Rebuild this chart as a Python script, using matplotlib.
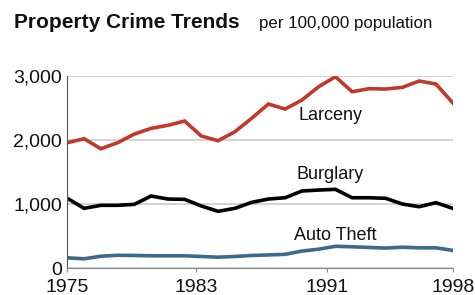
import numpy as np
import matplotlib.pyplot as plt

plt.rcParams['font.family'] = ['Liberation Sans', 'DejaVu Sans']

years = list(range(1975, 1999))
larceny = [1955, 2017, 1861, 1955, 2090, 2179, 2226, 2293, 2059, 1986, 2126, 2335,
           2558, 2480, 2620, 2828, 2984, 2750, 2797, 2792, 2818, 2917, 2870, 2578]
burglary = [1088, 932, 979, 979, 994, 1124, 1077, 1072, 968, 885, 932, 1025,
            1077, 1097, 1202, 1217, 1228, 1097, 1097, 1088, 999, 957, 1020, 932]
auto_theft = [160, 145, 185, 200, 197, 192, 192, 192, 181, 170, 181, 197,
              205, 215, 265, 295, 340, 332, 322, 312, 326, 316, 316, 276]
tick_labels = ['1975', '1983', '1991', '1998']

fig = plt.figure(figsize=(4.75, 2.95), dpi=100)
ax = fig.add_axes([0.1417, 0.0912, 0.8113, 0.6522])

ax.plot(years, larceny, color='#c0392b', lw=2.6, solid_joinstyle='miter')
ax.plot(years, burglary, color='#000000', lw=2.6, solid_joinstyle='miter')
ax.plot(years, auto_theft, color='#3d6a8c', lw=2.6, solid_joinstyle='miter')

ax.set_xlim(1975, 1998)
ax.set_ylim(0, 3000)
ax.set_yticks([0, 1000, 2000, 3000])
ax.set_yticklabels(['0', '1,000', '2,000', '3,000'])
# tick spots follow the original picture, which are not quite on the years
ax.set_xticks([1975, 1982.7, 1990.5, 1998])
ax.set_xticklabels(tick_labels)

ax.grid(axis='y', color='#cccccc', lw=1.2)
ax.set_axisbelow(True)
for s in ['top', 'right']:
    ax.spines[s].set_visible(False)
ax.spines['left'].set_color('#555555')
ax.spines['bottom'].set_color('#888888')
ax.tick_params(axis='y', length=0, pad=4, labelsize=14, colors='#111111')
ax.tick_params(axis='x', length=3, pad=5, labelsize=14, colors='#888888',
               labelcolor='#111111')

ax.text(1988.8, 2309, 'Larceny', fontsize=13, va='baseline', color='#111111')
ax.text(1988.65, 1389, 'Burglary', fontsize=13, va='baseline', color='#111111')
ax.text(1988.5, 438, 'Auto Theft', fontsize=13, va='baseline', color='#111111')

fig.text(14 / 475, 0.904, 'Property Crime Trends', fontsize=15,
         fontweight='bold', va='baseline', color='#111111')
fig.text(259 / 475, 0.904, 'per 100,000 population', fontsize=12.2,
         va='baseline', color='#111111')

fig.savefig('out.png', dpi=100)
